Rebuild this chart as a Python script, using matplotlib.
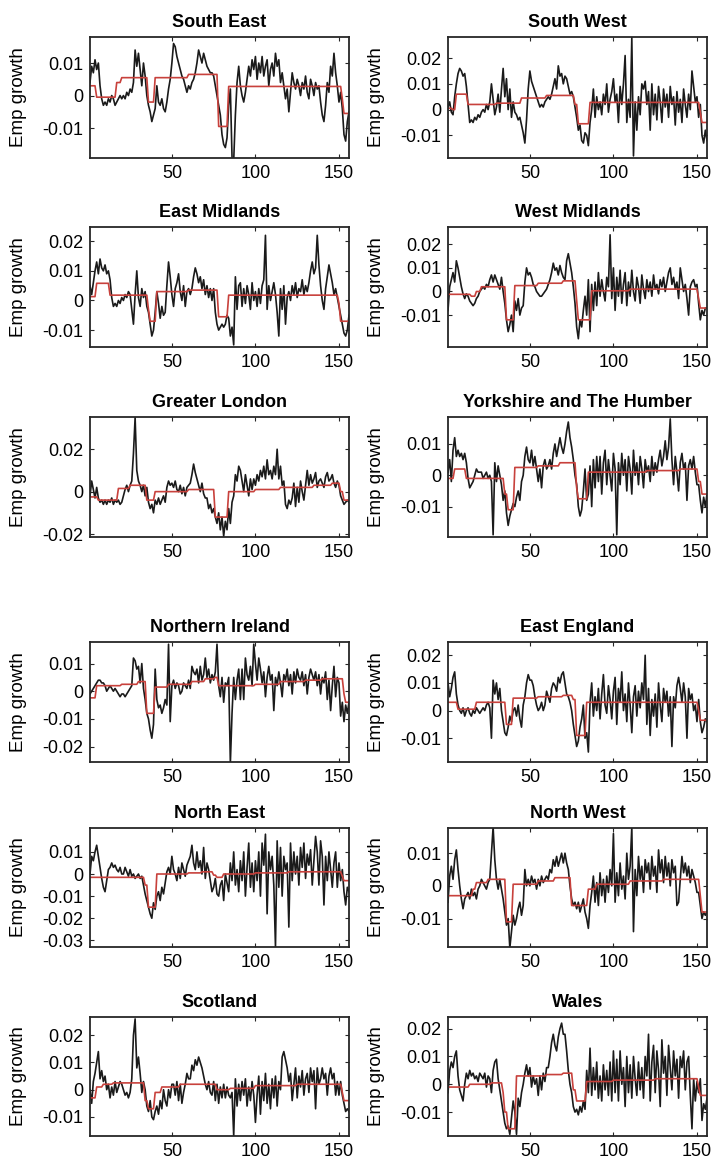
import numpy as np
import matplotlib
matplotlib.use("Agg")
import matplotlib.pyplot as plt

plt.rcParams['font.family'] = ['Liberation Sans', 'DejaVu Sans']

# ---------------- data (employment growth, in units of 0.001) ----------------
titles = ["South East", "South West", "East Midlands", "West Midlands",
          "Greater London", "Yorkshire and The Humber", "Northern Ireland",
          "East England", "North East", "North West", "Scotland", "Wales"]

se = [4, 9, 7, 11, 8, 10, 3, -1, -3, -2,
      -3, -1, -2, 0, -1, -3, -2, -1, 0, -1,
      0, -1, 1, 0, 2, 1, 4, 14, 9, 13,
      8, 3, 10, 6, 0, -3, -5, -8, -6, -4,
      3, -2, -3, -1, -4, -5, -2, 2, 5, 10,
      16, 15, 12, 10, 8, 6, 5, 3, 1, 3,
      2, 4, 5, 7, 10, 14, 12, 10, 13, 11,
      9, 8, 7, 7, 6, 3, 0, -3, -6, -12,
      -15, -16, -13, -3, 2, -19, -20, -6, 4, 9,
      3, 0, -2, 1, 5, 9, 6, 11, 8, 12,
      5, 10, 7, 12, 6, 9, 11, 3, 8, 10,
      6, 13, 9, 11, 4, 7, 3, -1, 2, -5,
      1, 7, 4, 2, 5, 3, 0, 4, 2, 6,
      1, -1, 5, 3, 0, 4, 2, 3, -2, -6,
      -8, -3, 4, 1, 9, 6, 13, 7, 3, -2,
      1, -4, -12, -14, -8, -5]
se_red_start = [1, 5, 17, 20, 36, 40, 60, 78, 84, 152, 153]
se_red_level = [3.0, -0.5, 4.0, 5.5, -2.0, 5.5, 6.5, -9.5, 2.8, -1.0, -5.5]

sw = [1, 3, -1, -2, 5, 10, 14, 16, 15, 13,
      14, 9, 2, -5, -4, -5, -3, -4, -2, -3,
      -1, 0, -1, 2, 0, 3, 10, 4, -2, 1,
      6, -1, 8, 16, 5, 12, 0, 8, -3, 3,
      -1, -2, -4, -3, -6, -9, -13, -4, 8, 15,
      11, 9, 7, 5, 3, 1, 2, 1, 3, 4,
      5, 4, 6, 9, 12, 8, 17, 13, 14, 10,
      13, 12, 9, 6, 7, 5, 1, -3, -8, -6,
      -12, -13, -9, -10, -14, -5, 0, 8, -3, 5,
      0, 3, -2, 6, 2, 10, -1, 4, 7, 12,
      3, 6, -5, 9, 2, 10, 21, -5, 4, -3,
      28, -18, 3, -8, 5, -2, 10, 8, 11, 2,
      7, -8, 10, -2, 6, -4, 9, 3, -5, 8,
      1, 6, -3, 9, 2, 5, -6, 7, -1, 4,
      -5, 8, 2, -3, 6, 0, 15, 9, 3, 5,
      -3, 2, -10, -13, -8, -12]
sw_red_start = [1, 4, 6, 13, 30, 45, 60, 77, 79, 86, 152, 153]
sw_red_level = [0.5, 0, 6, 2, 2.5, 4.5, 5.5, 2, -5.5, 2.8, -1, -5]

em = [5, 2, 6, 10, 13, 9, 14, 11, 10, 12,
      9, 10, 7, 1, -2, -1, -2, 0, -1, 1,
      0, 2, 1, 3, 2, -3, -8, 2, 10, 1,
      -2, 4, 1, 3, -2, -4, -8, -12, -10, -4,
      3, -1, -6, -2, -5, -4, 5, 13, 8, 2,
      -2, 4, 6, 9, 3, 0, 5, -2, 3, 4,
      2, 4, 8, 11, 9, 6, 8, 4, 7, 2,
      5, 1, 4, 0, 4, -4, -8, -10, -9, -8,
      -9, -8, -5, -6, -12, -9, -15, 8, -3, 5,
      6, -2, 4, -1, 5, 2, -3, 6, 0, 3,
      -2, 4, -1, 5, 7, 22, -3, 5, 0, 3,
      6, 2, -4, -12, 4, -3, 5, -8, 1, 3,
      0, 5, 2, 6, 1, 4, 3, 7, 2, 5,
      3, 6, 10, 13, 9, 11, 22, 12, 5, 0,
      -3, 4, 8, 12, 9, 6, 2, 4, 1, -2,
      -5, -8, -11, -12, -10, -5]
em_red_start = [1, 5, 13, 36, 37, 41, 60, 78, 84, 150, 151]
em_red_level = [1.3, 5.8, 1.8, -3, -7, 3, 3.5, -5.5, 1.8, -1, -7]

wm = [-8, 2, 5, 8, 4, 13, 10, 6, 2, -1,
      -3, -1, -2, -4, -5, -6, -5, -3, -2, 0,
      1, 2, 1, 3, 2, 5, 7, 4, 7, 5,
      3, 1, 6, 0, -5, -12, -17, -14, -10, -17,
      -4, -8, -3, -10, -7, -6, 4, 10, 7, 8,
      6, 3, 2, 0, -1, -2, -2, -1, 0, 1,
      3, 5, 8, 12, 9, 10, 7, 11, 8, 6,
      5, 13, 16, 12, 8, 2, -5, -15, -20, -12,
      -15, -8, -2, -10, 5, -17, 3, -8, 4, -6,
      8, -2, 5, 0, -4, 6, 2, 24, -3, 10,
      -8, 6, -2, 9, -5, 3, 8, -6, 4, -2,
      9, 0, -4, 6, 2, -5, 7, 1, -3, 5,
      0, 4, -2, 7, 1, 3, -1, 5, 2, 6,
      0, 4, 8, 10, 3, 6, 1, 4, -3, 10,
      5, 0, 3, -3, -10, 2, 4, 5, 2, 3,
      -5, -12, -8, -10, -7, -7]
wm_red_start = [1, 15, 18, 21, 36, 41, 55, 70, 78, 79, 87, 110, 151, 152]
wm_red_level = [-1.2, -2, 0, 2, -12, 2.5, 3.5, 4.5, -4, -12, 0.3, 1, -3, -7]

gl = [-2, 5, 1, -3, 2, -3, -5, -4, -6, -4,
      -6, -4, -5, -3, -6, -4, -5, -4, -6, -5,
      -2, 1, 3, 0, 3, 5, 18, 35, 10, 5,
      3, 0, 3, -2, 2, -5, -8, -6, -10, -4,
      -6, -3, -6, -4, -2, -5, 2, 5, 3, 4,
      2, 5, 1, 0, 3, -1, 2, -2, 2, 3,
      4, 8, 13, 9, 6, 3, 0, 4, -1, -3,
      -3, -8, -6, -10, -8, -12, -15, -10, -18, -12,
      -21, -14, -18, -8, -15, -5, -2, 8, 5, 12,
      10, 5, 0, 8, 3, -2, 6, 1, 6, 3,
      8, 5, 10, 7, 12, 6, 15, 8, 10, 6,
      12, 8, 20, 6, 12, 3, 5, -6, -8, -4,
      -6, -3, 4, -7, 2, -5, 5, 0, -4, 3,
      10, 3, 8, 4, 6, 9, 2, 5, 6, 4,
      2, 7, 9, 5, 6, 8, 4, 2, 5, 3,
      -2, -4, -6, -5, -4, -5]
gl_red_start = [1, 6, 18, 25, 35, 40, 60, 76, 84, 100, 115, 135, 146, 151, 153]
gl_red_level = [-2.5, -4, 1.5, 3, -4, 0, 1, -12, 0, 1, 2, 3, 4, 0, -4]

yh = [1, 5, -2, 8, 12, 6, 8, 6, 7, 5,
      7, 4, -1, -4, -3, -2, 0, 2, 1, 1,
      1, -1, 0, 1, -1, 0, -2, -19, 4, -2,
      3, 0, -3, -8, -5, -12, -16, -13, -11, -9,
      -10, -7, -5, -8, -2, 0, 6, 9, 5, 4,
      8, 3, 6, 2, -2, 2, -4, 3, 5, 2,
      3, 5, 2, 7, 10, 6, 9, 12, 9, 7,
      10, 14, 17, 12, 9, 5, 0, -3, -10, -13,
      -11, -5, 2, -8, -6, 3, -10, 5, -4, 6,
      -2, 6, -6, 4, 8, -3, 5, 0, -5, 7,
      2, -19, 4, -3, 7, 0, 5, -5, 6, 2,
      -6, 8, 0, 4, -3, 6, 2, -4, 5, 1,
      3, -2, 6, 0, 4, 1, 5, 8, 3, 6,
      11, 5, 9, 18, 5, -3, 6, 1, -5, 4,
      7, 2, 4, -8, 3, 5, 2, 6, 1, -3,
      -3, -8, -12, -7, -10, -6]
yh_red_start = [1, 5, 12, 35, 37, 41, 55, 68, 78, 79, 85, 120, 140, 151, 153]
yh_red_level = [-1, 2, -1, -6, -11, 2.5, 3, 4, -4, -7.5, 1, 1.5, 2, -2, -6]

ni = [-1, 0, 1, 2, 3, 4, 4, 3, 3, 2,
      0, 1, 2, 1, 0, 1, 0, -1, -2, -1,
      -1, -2, -1, 0, 1, 2, 12, 11, 8, 9,
      3, 10, 1, -3, -8, -10, -14, -17, -12, 8,
      -3, -6, -5, -8, -6, -3, -5, 17, -11, 2,
      4, 1, 3, 2, -1, 0, 3, 2, 1, 4,
      1, 9, 7, 6, 8, 3, 9, 4, 6, 12,
      5, 8, 3, 6, 4, 7, 17, 2, -2, 5,
      -4, 3, 2, 5, -26, -8, 5, -3, 4, 8,
      -3, 8, -3, 12, 6, 4, 9, 2, 17, 10,
      4, 12, 8, 3, 7, -2, 5, 9, 4, 6,
      -7, 5, 2, 7, 3, -2, 6, 4, 8, 2,
      6, -1, 7, 3, 8, 5, 4, 7, 2, 6,
      -1, 5, 8, 6, 4, 7, 2, 6, -1, 5,
      3, 7, -3, 4, -7, 2, 9, -2, 5, 3,
      -9, -4, -11, -5, -8, -4]
ni_red_start = [1, 5, 20, 30, 35, 40, 48, 62, 70, 76, 78, 100, 115, 130, 140, 153, 154]
ni_red_level = [-2.4, 2, 2.5, 3.5, -8, 1.5, 2.5, 3.5, 4.5, 5, 2, 2.5, 3.5, 4, 4.5, -1, -4]

ee = [10, 5, 8, 12, 14, 6, 2, 0, -1, 1,
      -2, 0, 1, -1, -2, 0, -1, 1, 0, -1,
      0, 1, 0, 2, 3, 1, -10, 11, 6, 10,
      4, 8, 0, -4, -8, -9, -6, -2, -4, 0,
      1, -2, 2, -3, -6, 2, 5, 10, 13, 11,
      11, 9, 5, 2, 0, 1, 3, 0, 2, 7,
      5, 3, 8, 10, 9, 7, 12, 10, 13, 14,
      10, 6, 5, 3, 0, -5, -9, -13, -11, -6,
      -3, 2, -10, -8, -15, 3, 10, -2, 5, 0,
      8, -3, 6, 13, 2, -1, 9, 4, -3, 7,
      12, -5, 8, 3, 14, 0, 6, -4, 10, 2,
      -8, 5, 9, -2, 7, 1, 10, 4, 20, -5,
      8, -9, 4, -2, 6, -6, 10, 2, -4, 8,
      3, 7, -2, 5, -13, 5, 1, 9, 12, 8,
      3, 10, 5, -10, 8, 4, 6, 0, 2, -4,
      4, -4, -8, -6, -3, -4]
ee_red_start = [1, 7, 18, 36, 40, 55, 70, 76, 78, 84, 151, 152]
ee_red_level = [3, 0.5, 3, -5, 4.5, 5, 5.5, 4, -9, 3, 0, -3.5]

ne = [0, 8, 6, 10, 13, 8, 3, -2, -6, -8,
      -3, 2, 3, 5, 3, 4, 2, 1, 3, 0,
      0, 3, 1, -1, 2, -1, 0, -2, -1, 0,
      -2, -1, -5, -9, -12, -15, -18, -20, -13, -16,
      -10, -8, -12, -6, -9, -4, 1, 3, 0, 8,
      2, 0, -3, 3, -2, 5, 2, -1, 4, 6,
      8, 13, 5, 2, 10, 3, 6, 0, 12, -2,
      5, 2, -3, -8, -6, -2, -9, -10, -5, -3,
      -12, 0, -4, -8, 5, -3, 10, -5, 2, -8,
      6, -3, 10, -10, 3, 14, -6, 5, -8, 6,
      -3, 10, -10, 14, 4, 18, -18, 10, 2, 8,
      -5, -33, 15, -6, 12, -10, 8, 2, 5, -24,
      14, -3, 10, 0, 8, -5, 12, 3, 14, -2,
      9, 4, 11, -5, 6, 17, 10, -5, 15, 8,
      -14, 8, -3, 10, 2, -6, 5, 10, -6, 5,
      -3, 2, -8, -14, -6, -8]
ne_red_start = [1, 34, 36, 41, 60, 68, 75, 77, 81, 100, 120, 152, 153]
ne_red_level = [-1.5, -5, -15, 0, 0.5, 1, -0.5, -1.5, 0, 0.5, 1, -1, -3]

nw = [-5, 3, 6, 2, 8, 11, 5, 0, -4, -7,
      -4, -3, -2, -4, -1, -3, -2, -4, -1, 0,
      2, 1, 0, -1, 1, 2, 10, 18, 8, 2,
      -1, 2, -1, -4, -8, -12, -10, -19, -14, -9,
      -12, -10, -7, -5, -9, -6, 5, 0, 2, 0,
      3, 1, 2, -1, 2, 0, 3, 1, 2, 3,
      2, 5, 4, 8, 6, 9, 6, 8, 10, 7,
      10, 7, 5, 0, -4, -6, -5, -7, -5, -8,
      -6, -4, -8, -10, -13, -6, -2, 3, -5, 1,
      -6, 4, -3, 2, -5, 3, -2, 5, 0, 16,
      -5, 4, -3, 7, -1, 3, -4, 10, 2, 6,
      18, -14, 5, -3, 9, 2, 6, -2, 8, 4,
      7, -1, 9, 3, 6, -2, 11, 4, 8, 1,
      9, 3, 7, 0, 8, 4, 6, -6, -5, 2,
      9, 4, 7, 3, 6, 1, 5, 3, 1, -2,
      -2, -6, -10, -8, -9, -8]
nw_red_start = [1, 16, 18, 25, 36, 40, 55, 65, 75, 85, 90, 110, 130, 152, 153]
nw_red_level = [-3, -1, 1, 2, -11, 0.5, 1.5, 2.5, -6, -1, 0.5, 1.5, 2, -3, -8]

sc = [0, -5, 3, 6, 10, 14, 4, 7, 3, 5,
      0, 2, -3, 1, -2, 3, -1, 1, 3, 2,
      0, -2, -1, -3, -1, 4, 20, 26, 8, 12,
      6, -1, 3, 0, -6, -8, -4, -10, -11, -8,
      -6, -9, -4, -7, 0, -4, -6, 0, -3, 2,
      2, -2, 3, -4, 2, -5, -1, 2, 6, 4,
      4, 9, 7, 11, 9, 12, 10, 8, 5, 2,
      0, 3, -1, -2, 3, -4, 2, -5, 1, -3,
      2, -3, 1, -2, -3, -1, -17, 4, -6, 2,
      -4, 3, -2, 4, -6, 1, -4, 3, -2, -12,
      -2, 5, -9, 3, -4, 6, -5, 2, -7, 4,
      -3, 5, -6, 3, 0, 12, 14, 11, 8, 3,
      6, -4, 2, 8, -3, 5, 1, 7, -2, 4,
      6, -1, 8, 3, 7, -7, 8, 2, 4, 8,
      4, 6, -2, 5, 8, 4, 6, -2, 3, -2,
      3, -2, -5, -8, -7, -8]
sc_red_start = [1, 5, 9, 15, 34, 36, 40, 44, 55, 77, 85, 100, 125, 152, 153]
sc_red_level = [-3, 1, 2, 2.5, -4, -7, -1, 1, 2, 0, 0.5, 1.5, 2, -1, -4]

wa = [-3, 5, 8, 6, 10, 12, 3, -2, -4, -6,
      0, 4, 2, 5, 3, 4, 2, 3, 1, 4,
      3, 2, 4, -1, 3, 2, -3, 5, 8, 9,
      2, -2, -6, -10, -14, -16, -15, -18, -12, -6,
      -10, -18, -5, -8, -3, 0, 4, 7, 3, 6,
      -1, 3, 0, 2, -4, 3, -2, 4, 1, 6,
      6, 10, 15, 18, 14, 12, 17, 20, 22, 18,
      18, 12, 5, 0, -3, -8, -10, -9, -11, -8,
      -10, -6, -9, 5, -3, 13, -4, 6, -2, 8,
      -5, 3, -6, 7, -2, 5, -4, 8, -6, 12,
      -3, 9, -6, 12, 0, 6, -8, 10, -3, 7,
      -5, 10, 2, -4, 8, -2, 6, -5, 10, 3,
      18, -6, 8, 14, -3, 12, 5, -8, 16, 4,
      10, -4, 14, 6, -2, 12, 3, 9, -5, 10,
      6, 12, -2, 8, 10, -4, -16, 2, -6, 1,
      -3, 2, -13, -7, -9, -5]
wa_red_start = [1, 14, 27, 34, 35, 37, 42, 60, 70, 76, 78, 84, 100, 125, 151, 152]
wa_red_level = [-1, 0, 0.5, -3, -10, -16, 3, 3.5, 4, -2, -6, 1, 1.5, 2, -1, -4]

series = [se, sw, em, wm, gl, yh, ni, ee, ne, nw, sc, wa]
red_starts = [se_red_start, sw_red_start, em_red_start, wm_red_start, gl_red_start,
              yh_red_start, ni_red_start, ee_red_start, ne_red_start, nw_red_start,
              sc_red_start, wa_red_start]
red_levels = [se_red_level, sw_red_level, em_red_level, wm_red_level, gl_red_level,
              yh_red_level, ni_red_level, ee_red_level, ne_red_level, nw_red_level,
              sc_red_level, wa_red_level]

ylims = [(-0.0192, 0.0180), (-0.0188, 0.0282), (-0.0157, 0.0248), (-0.0235, 0.0273),
         (-0.0214, 0.0352), (-0.0197, 0.0186), (-0.0256, 0.0178), (-0.0186, 0.0248),
         (-0.0330, 0.0208), (-0.0187, 0.0177), (-0.0170, 0.0267), (-0.0186, 0.0242)]
yticks = [[-0.01, 0, 0.01], [-0.01, 0, 0.01, 0.02], [-0.01, 0, 0.01, 0.02],
          [-0.01, 0, 0.01, 0.02], [-0.02, 0, 0.02], [-0.01, 0, 0.01],
          [-0.02, -0.01, 0, 0.01], [-0.01, 0, 0.01, 0.02],
          [-0.03, -0.02, -0.01, 0, 0.01], [-0.01, 0, 0.01],
          [-0.01, 0, 0.01, 0.02], [-0.01, 0, 0.01, 0.02]]
xticks = [50, 100, 150]

# ---------------- layout ----------------
W, H = 716, 1161
fig = plt.figure(figsize=(W / 100, H / 100), dpi=100)
col_left = [90, 448]
ax_w = 259
rows = [(37, 158), (227, 347), (417, 537), (642, 762), (828, 947), (1017, 1136)]

frame_col = "#262626"
for i, (title, vals) in enumerate(zip(titles, series)):
    r, c = divmod(i, 2)
    top, bot = rows[r]
    ax = fig.add_axes([col_left[c] / W, 1 - bot / H, ax_w / W, (bot - top) / H])
    y = np.array(vals, dtype=float) / 1000.0
    t = np.arange(1, len(y) + 1)
    idx = np.searchsorted(red_starts[i], t, side='right') - 1
    red = np.array(red_levels[i], dtype=float)[idx] / 1000.0
    ax.plot(t, y, color="#1a1a1a", lw=1.2)
    ax.plot(t, red, color="#c8413c", lw=1.2)
    ax.set_xlim(1, len(y))
    ax.set_ylim(*ylims[i])
    ax.set_xticks(xticks)
    ax.set_xticklabels([str(v) for v in xticks])
    ax.set_yticks(yticks[i])
    ax.set_yticklabels(["%g" % v for v in yticks[i]])
    ax.tick_params(direction='in', top=True, right=True, length=3, width=0.8,
                   color=frame_col, labelsize=13, pad=5)
    for s in ax.spines.values():
        s.set_linewidth(1.3)
        s.set_color(frame_col)
    ax.set_title(title, fontsize=13, fontweight='bold', pad=7)
    ax.set_ylabel("Emp growth", fontsize=13.5)
    ax.yaxis.set_label_coords(-0.245, 0.5)

fig.savefig("out.png", dpi=100)
